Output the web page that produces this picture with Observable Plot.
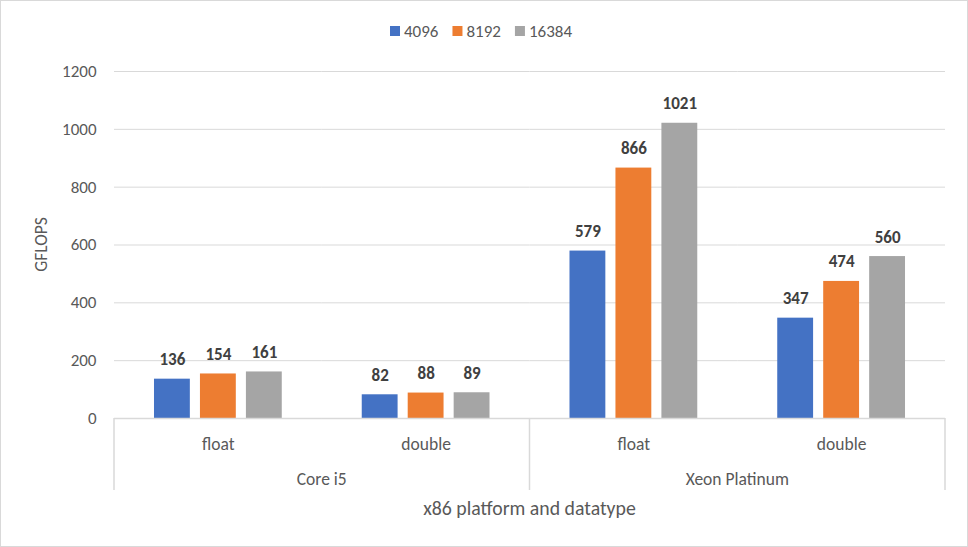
<!DOCTYPE html>
<html>
<head>
<meta charset="utf-8">
<script src="https://cdn.jsdelivr.net/npm/d3@7"></script>
<script src="https://cdn.jsdelivr.net/npm/@observablehq/plot@0.6"></script>
<style>
  html, body { margin: 0; padding: 0; background: #fff; }
  #chart { width: 968px; height: 547px; }
</style>
</head>
<body>
<div id="chart"></div>
<script>
// ---- data ----
const platforms = ["Core i5", "Core i5", "Xeon Platinum", "Xeon Platinum"];
const datatypes = ["float", "double", "float", "double"];
const series = ["4096", "8192", "16384"];
const values4096 = [136, 82, 579, 347];
const values8192 = [154, 88, 866, 474];
const values16384 = [161, 89, 1021, 560];
const yTicks = [0, 200, 400, 600, 800, 1000, 1200];
const colors = ["#4472C4", "#ED7D31", "#A5A5A5"];
const yLabel = "GFLOPS";
const xTitle = "x86 platform and datatype";

// ---- build table ----
const keys = platforms.map((p, i) => p + "|" + datatypes[i]);
const seriesValues = [values4096, values8192, values16384];
const rows = [];
keys.forEach((k, i) => {
  series.forEach((s, j) => {
    rows.push({ key: k, platform: platforms[i], dtype: datatypes[i], series: s, value: seriesValues[j][i] });
  });
});
const cats = keys.map((k, i) => ({ key: k, dtype: datatypes[i], platform: platforms[i] }));

const FONT = "Carlito, Calibri, Lato, sans-serif";
const W = 968, H = 547;
const TXT = "#595959";

const plot = Plot.plot({
  width: W,
  height: H,
  marginLeft: 114,
  marginRight: 23,
  marginTop: 71,
  marginBottom: 129,
  style: { fontFamily: FONT, fontSize: "17px", color: TXT, background: "#fff", overflow: "visible" },
  fx: { domain: keys, padding: 0, axis: null, label: null, round: false },
  x: { domain: series, paddingInner: 0.22, paddingOuter: 0.87, axis: null, round: false },
  y: { domain: [0, 1200], axis: null },
  color: { domain: series, range: colors },
  marks: [
    Plot.gridY(yTicks, { stroke: "#d9d9d9", strokeOpacity: 1, strokeWidth: 1 }),
    Plot.axisY(yTicks, { tickSize: 0, tickPadding: 18, label: null, fill: TXT, fontSize: 17, tickFormat: d => String(d) }),
    Plot.barY(rows, { fx: "key", x: "series", y: "value", fill: "series" }),
    Plot.text(rows, {
      fx: "key", x: "series", y: "value", text: d => String(d.value),
      lineAnchor: "bottom", dy: -14, fontWeight: "bold", fill: "#404040", fontSize: 17
    }),
    Plot.ruleY([0], { stroke: "#d9d9d9", strokeWidth: 1.5 }),
    Plot.text(cats, {
      fx: "key", text: "dtype", frameAnchor: "bottom", lineAnchor: "bottom", dy: 31, fill: TXT, fontSize: 17.5
    })
  ]
});

document.getElementById("chart").appendChild(plot);

// ---- extra decorations using Plot's own scales ----
const svg = d3.select(plot);
const fx = plot.scale("fx");
const bw = fx.bandwidth;
const y = plot.scale("y");
const y0 = y.apply(0);

// outer border
svg.append("rect")
  .attr("x", 0.5).attr("y", 0.5).attr("width", W - 1).attr("height", H - 1)
  .attr("fill", "none").attr("stroke", "#d9d9d9").attr("stroke-width", 1);

// platform grouping
const platformNames = Array.from(new Set(platforms));
const lineColor = "#d9d9d9";
const bounds = [];
platformNames.forEach(p => {
  const ks = keys.filter((k, i) => platforms[i] === p);
  const x0 = fx.apply(ks[0]);
  const x1 = fx.apply(ks[ks.length - 1]) + bw;
  bounds.push(x0, x1);
  svg.append("text")
    .attr("x", (x0 + x1) / 2).attr("y", y0 + 67)
    .attr("text-anchor", "middle")
    .attr("fill", TXT)
    .style("font-family", FONT).style("font-size", "17.5px")
    .text(p);
});
Array.from(new Set(bounds.map(b => Math.round(b * 10) / 10))).forEach(bx => {
  svg.append("line")
    .attr("x1", bx).attr("x2", bx).attr("y1", y0).attr("y2", y0 + 72)
    .attr("stroke", lineColor).attr("stroke-width", 1.5);
});

// y label
const yMid = (y.apply(0) + y.apply(1200)) / 2;
svg.append("text")
  .attr("transform", `translate(47,${yMid}) rotate(-90)`)
  .attr("text-anchor", "middle")
  .attr("fill", TXT)
  .style("font-family", FONT).style("font-size", "17.5px")
  .text(yLabel);

// x title
const xLeft = fx.apply(keys[0]);
const xRight = fx.apply(keys[keys.length - 1]) + bw;
svg.append("text")
  .attr("x", (xLeft + xRight) / 2).attr("y", 515)
  .attr("text-anchor", "middle")
  .attr("fill", TXT)
  .style("font-family", FONT).style("font-size", "19.8px")
  .text(xTitle);

// legend
const color = plot.scale("color");
const legend = svg.append("g")
  .attr("text-anchor", "start")
  .style("font-family", FONT).style("font-size", "17px");
let lx = 390;
series.forEach((s, i) => {
  legend.append("rect").attr("x", lx).attr("y", 26).attr("width", 10).attr("height", 10)
    .attr("fill", color.apply(s));
  const t = legend.append("text").attr("x", lx + 14).attr("y", 37)
    .attr("text-anchor", "start")
    .attr("fill", TXT).text(s);
  const w = t.node().getComputedTextLength();
  lx = lx + 14 + w + 14;
});
</script>
</body>
</html>
